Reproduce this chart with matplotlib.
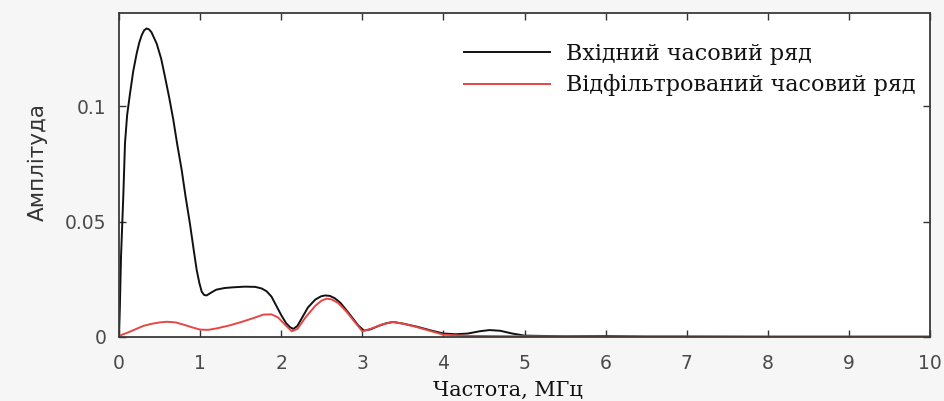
import numpy as np
import matplotlib
matplotlib.use('Agg')
import matplotlib.pyplot as plt

# spectrum of the input series (black)
freq_in = [0, 0.01, 0.025, 0.054, 0.074, 0.1, 0.136, 0.175, 0.218, 0.25, 0.28, 0.31, 0.34,
           0.37, 0.4, 0.465, 0.52, 0.567, 0.62, 0.67, 0.72, 0.773, 0.82, 0.875, 0.92, 0.958,
           0.99, 1.02, 1.05, 1.08, 1.14, 1.2, 1.3, 1.4, 1.55, 1.68, 1.76, 1.82, 1.88, 1.94,
           2.0, 2.06, 2.11, 2.15, 2.2, 2.26, 2.33, 2.42, 2.49, 2.54, 2.6, 2.66, 2.73, 2.8,
           2.88, 2.95, 3.02, 3.1, 3.2, 3.3, 3.38, 3.5, 3.67, 3.85, 4.0, 4.15, 4.3, 4.45, 4.57,
           4.7, 4.85, 5.0, 5.5, 6.0, 6.5, 7, 8, 9, 10]
amp_in = [0.0, 0.012, 0.035, 0.062, 0.084, 0.096, 0.1055, 0.115, 0.1228, 0.1275, 0.1307,
          0.1328, 0.1336, 0.1332, 0.132, 0.127, 0.1205, 0.1127, 0.1035, 0.094, 0.083, 0.0723,
          0.061, 0.049, 0.038, 0.029, 0.0235, 0.0196, 0.0182, 0.018, 0.0193, 0.0205, 0.0212,
          0.0215, 0.0218, 0.0217, 0.021, 0.0198, 0.0175, 0.0135, 0.0095, 0.006, 0.0042,
          0.0035, 0.0048, 0.0085, 0.0128, 0.0162, 0.0176, 0.018, 0.0178, 0.0168, 0.0148,
          0.0118, 0.0082, 0.005, 0.0028, 0.0033, 0.0048, 0.006, 0.0065, 0.0058, 0.0045,
          0.0028, 0.0015, 0.0012, 0.0015, 0.0025, 0.003, 0.0027, 0.0015, 0.0006, 0.0003,
          0.0004, 0.0002, 0.0002, 0.0001, 0.0001, 0.0001]

# spectrum of the filtered series (red)
freq_filt = [0, 0.1, 0.2, 0.3, 0.4, 0.5, 0.59, 0.7, 0.8, 0.9, 1.0, 1.1, 1.2, 1.35, 1.5, 1.65,
             1.78, 1.88, 1.96, 2.05, 2.13, 2.2, 2.3, 2.42, 2.5, 2.56, 2.62, 2.7, 2.8, 2.9,
             3.0, 3.1, 3.25, 3.38, 3.5, 3.65, 3.8, 4.0, 4.3, 4.6, 5.0, 6, 7, 8, 9, 10]
amp_filt = [0.0005, 0.0018, 0.0033, 0.0048, 0.0057, 0.0063, 0.0066, 0.0063, 0.0053, 0.0042,
            0.0032, 0.0031, 0.0037, 0.0049, 0.0064, 0.0081, 0.0097, 0.0098, 0.0085, 0.0052,
            0.0025, 0.0035, 0.0085, 0.0135, 0.0158, 0.0166, 0.0163, 0.0148, 0.0112, 0.0068,
            0.0025, 0.0035, 0.0055, 0.0065, 0.0058, 0.0045, 0.003, 0.001, 0.0005, 0.0004,
            0.0003, 0.0002, 0.0002, 0.0002, 0.0002, 0.0002]

labels = ['Вхідний часовий ряд', 'Відфільтрований часовий ряд']
xticks = list(range(0, 11))
yticks = [0, 0.05, 0.1]
ytick_labels = ['0', '0.05', '0.1']

serif = ['DejaVu Serif']
sans = ['DejaVu Sans']

fig = plt.figure(figsize=(9.45, 4.01), dpi=100, facecolor='#f6f6f6')
ax = fig.add_axes([119/945, 1-337/401, (930-119)/945, (337-13)/401])
ax.set_facecolor('white')

ax.plot(freq_in, amp_in, color='#111111', lw=1.4, label=labels[0])
ax.plot(freq_filt, amp_filt, color='#e84545', lw=1.4, label=labels[1])

ax.set_xlim(0, 10)
ax.set_ylim(0, 0.1403)
ax.set_xticks(xticks)
ax.set_yticks(yticks)
ax.set_yticklabels(ytick_labels)
ax.tick_params(direction='in', top=True, right=True, length=5, width=1,
               labelsize=13.5, colors='#333333')
ax.tick_params(axis='x', pad=12)
ax.tick_params(axis='y', pad=9)
for lab in ax.get_xticklabels() + ax.get_yticklabels():
    lab.set_family(sans)
    lab.set_color('#4a4a4a')
for sp in ax.spines.values():
    sp.set_linewidth(1.3)
    sp.set_color('#3a3a3a')

ax.set_xlabel('Частота, МГц', family=serif, fontsize=15, color='#111111')
ax.xaxis.set_label_coords((508-119)/811, -(390-337)/324, transform=ax.transAxes)
ax.xaxis.label.set_va('center')
ax.set_ylabel('Амплітуда', family=sans, fontsize=15.5, color='#333333')
ax.yaxis.set_label_coords(-(119-38)/811, (337-162)/324, transform=ax.transAxes)
ax.yaxis.label.set_va('center')

leg = ax.legend(loc='upper right', bbox_to_anchor=(916/945, 1-43/401),
                bbox_transform=fig.transFigure, frameon=False,
                prop={'family': serif, 'size': 16}, handlelength=3.9,
                handletextpad=0.72, borderpad=0, borderaxespad=0, labelspacing=0.42)
for t in leg.get_texts():
    t.set_color('#111111')

fig.savefig('out.png', dpi=100, facecolor=fig.get_facecolor())
